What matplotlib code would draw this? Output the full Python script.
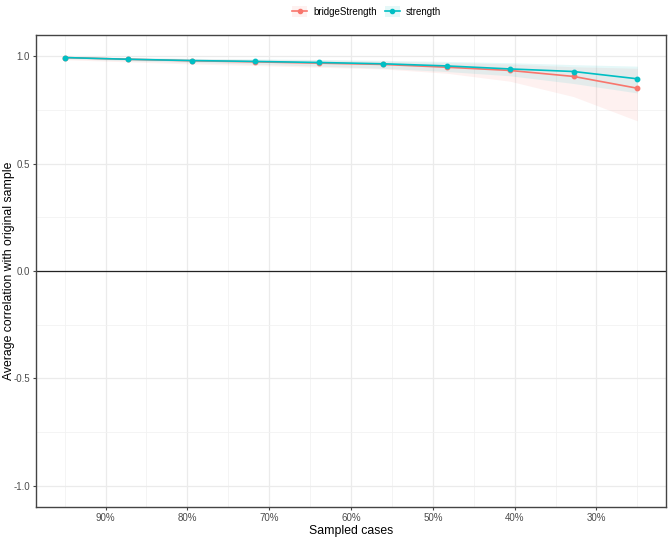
import matplotlib.pyplot as plt
from matplotlib.lines import Line2D
from matplotlib.patches import Patch
from matplotlib.ticker import FixedLocator, FuncFormatter

plt.rcParams['font.family'] = ['Liberation Sans', 'DejaVu Sans']

# sampled proportion of cases (%)
sampled = [95.0, 87.2, 79.4, 71.7, 63.9, 56.1, 48.3, 40.6, 32.8, 25.0]

strength_mean = [0.995, 0.987, 0.981, 0.977, 0.972, 0.966, 0.956, 0.942, 0.930, 0.896]
strength_lo = [0.990, 0.980, 0.972, 0.964, 0.955, 0.945, 0.930, 0.910, 0.874, 0.830]
strength_hi = [0.999, 0.995, 0.991, 0.989, 0.986, 0.982, 0.977, 0.971, 0.962, 0.955]

bridge_mean = [0.995, 0.987, 0.980, 0.975, 0.969, 0.963, 0.950, 0.935, 0.907, 0.852]
bridge_lo = [0.985, 0.975, 0.965, 0.958, 0.950, 0.942, 0.922, 0.885, 0.813, 0.700]
bridge_hi = [0.999, 0.995, 0.990, 0.987, 0.984, 0.978, 0.972, 0.965, 0.952, 0.945]

red = '#F8766D'
teal = '#00BFC4'

fig = plt.figure(figsize=(6.69, 5.39), dpi=100)
ax = fig.add_axes([0.0538, 0.0594, 0.9417, 0.8756])

ax.fill_between(sampled, bridge_lo, bridge_hi, color=red, alpha=0.1, lw=0)
ax.fill_between(sampled, strength_lo, strength_hi, color=teal, alpha=0.1, lw=0)
ax.plot(sampled, bridge_mean, color=red, lw=1.2, marker='o', ms=3.2, zorder=3)
ax.plot(sampled, strength_mean, color=teal, lw=1.2, marker='o', ms=3.2, zorder=4)
ax.axhline(0, color='#222222', lw=0.9, zorder=2)

ax.set_xlim(98.5, 21.5)
ax.set_ylim(-1.1, 1.1)
ax.xaxis.set_major_locator(FixedLocator([90, 80, 70, 60, 50, 40, 30]))
ax.xaxis.set_minor_locator(FixedLocator([95, 85, 75, 65, 55, 45, 35, 25]))
ax.xaxis.set_major_formatter(FuncFormatter(lambda v, p: '%d%%' % v))
ax.yaxis.set_major_locator(FixedLocator([-1.0, -0.5, 0.0, 0.5, 1.0]))
ax.yaxis.set_minor_locator(FixedLocator([-0.75, -0.25, 0.25, 0.75]))
ax.yaxis.set_major_formatter(FuncFormatter(lambda v, p: '%.1f' % v))

ax.grid(which='major', color='#EBEBEB', lw=0.9)
ax.grid(which='minor', color='#F2F2F2', lw=0.6)
ax.set_axisbelow(True)
for s in ax.spines.values():
    s.set_color('#444444')
    s.set_linewidth(1.0)
ax.tick_params(which='major', length=2.5, pad=2, color='#444444', labelcolor='#4D4D4D', labelsize=7)
ax.tick_params(which='minor', length=0)

ax.set_xlabel('Sampled cases', fontsize=8.8, color='black', labelpad=1.5)
ax.set_ylabel('Average correlation with original sample', fontsize=8.8, color='black')
ax.yaxis.set_label_coords(-0.034, 0.5)

handles = [
    (Patch(facecolor=red, alpha=0.1, lw=0), Line2D([], [], color=red, lw=1.2, marker='o', ms=3)),
    (Patch(facecolor=teal, alpha=0.1, lw=0), Line2D([], [], color=teal, lw=1.2, marker='o', ms=3)),
]
fig.legend(handles, ['bridgeStrength', 'strength'], loc='center', bbox_to_anchor=(0.548, 0.978),
           ncol=2, frameon=False, fontsize=7, handlelength=1.6, handleheight=1.4,
           columnspacing=0.8, handletextpad=0.6)

fig.savefig('out.png', dpi=100)
